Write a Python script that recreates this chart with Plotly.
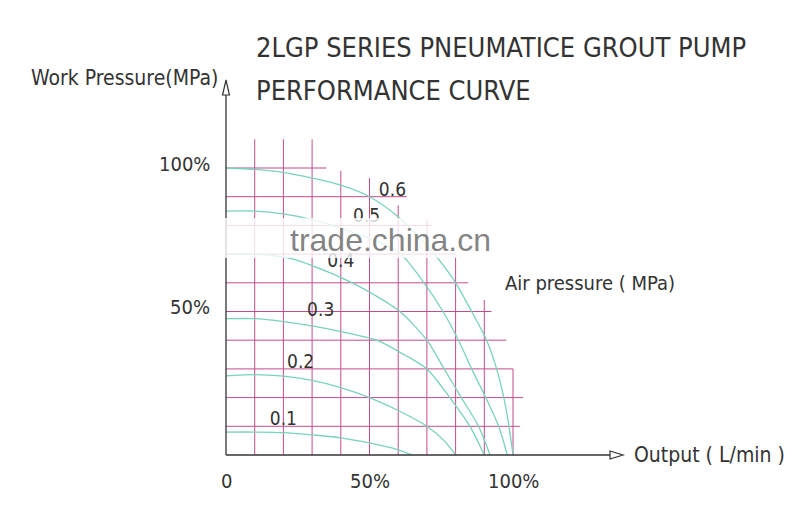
import plotly.graph_objects as go

# ---- data (percent of max output, percent of max work pressure) ----
air_pressures = ["0.1", "0.2", "0.3", "0.4", "0.5", "0.6"]
curve_x = {
    "0.1": [0, 10, 20, 30, 40, 50, 60, 65],
    "0.2": [0, 10, 20, 30, 40, 50, 60, 70, 76, 80],
    "0.3": [0, 10, 20, 30, 40, 52.5, 62, 70, 78, 85, 90],
    "0.4": [0, 10, 22, 30, 44, 53, 60.6, 70, 76, 82, 88, 92],
    "0.5": [0, 10, 20, 30, 40, 50, 60.6, 69, 75.6, 81, 85.6, 90.5, 95, 98],
    "0.6": [0, 10, 20, 30, 40, 50, 60, 70, 75, 80, 85.6, 90.8, 94.3, 96.8, 98.6, 100],
}
curve_y = {
    "0.1": [8, 8, 7.8, 7, 6, 4.2, 1.8, 0],
    "0.2": [27.6, 28, 27.5, 26, 23.5, 20, 15.5, 10, 5, 0],
    "0.3": [47.5, 47.5, 46.5, 45, 43, 40, 35, 30, 20, 10, 0],
    "0.4": [70, 70, 68.6, 66, 60, 55, 50, 40, 30, 20, 10, 0],
    "0.5": [85, 85, 84, 82, 79, 75.5, 70.3, 60, 50, 40, 30, 20, 10, 0],
    "0.6": [100, 99.5, 98.5, 96.5, 94, 90, 83, 73, 67, 60, 50, 40, 30, 20, 10, 0],
}
label_pos_x = [20, 26, 33, 40, 49, 58]
label_pos_y = [12, 32, 50, 67, 83, 92]

grid_x = [10, 20, 30, 40, 50, 60, 70, 80, 90, 100]
grid_x_top = [110, 110, 110, 99, 96.5, 87, 82, 69, 54, 30]
grid_y = [10, 20, 30, 40, 50, 60, 70, 80, 90, 100]
grid_y_right = [102.5, 103.5, 100, 97.7, 92.5, 84.4, 80, 72, 63, 35]

x_tick_vals = [0, 50, 100]
x_tick_text = ["0", "50%", "100%"]
y_tick_vals = [50, 100]
y_tick_text = ["50%", "100%"]

# ---- pixel mapping (page has an 8px body margin) ----
OFF = 8
SX, X0, Y0 = 2.87, 226 - OFF, 455 - OFF
W, H = 800 - OFF, 506 - OFF


def px(xp):
    return (xp - OFF - X0) / SX


def py(yp):
    return (Y0 - (yp - OFF)) / SX


xr = [-X0 / SX, (W - X0) / SX]
yr = [(Y0 - H) / SX, Y0 / SX]

GRID = "#c24d8c"
CURVE = "#79d2bd"
INK = "#333333"
FONT = "DejaVu Sans Condensed, Liberation Sans Narrow, DejaVu Sans, sans-serif"

fig = go.Figure()

for gx, top in zip(grid_x, grid_x_top):
    fig.add_trace(go.Scatter(x=[gx, gx], y=[0, top], mode="lines",
                             line=dict(color=GRID, width=1), hoverinfo="skip", showlegend=False))
for gy, right in zip(grid_y, grid_y_right):
    fig.add_trace(go.Scatter(x=[0, right], y=[gy, gy], mode="lines",
                             line=dict(color=GRID, width=1), hoverinfo="skip", showlegend=False))

for p in air_pressures:
    fig.add_trace(go.Scatter(x=curve_x[p], y=curve_y[p], mode="lines",
                             line=dict(color=CURVE, width=1.3, shape="spline", smoothing=0.8),
                             name=p, showlegend=False))

fig.add_trace(go.Scatter(x=label_pos_x, y=label_pos_y, mode="text", text=air_pressures,
                         textfont=dict(family=FONT, size=19, color=INK),
                         hoverinfo="skip", showlegend=False))

x_end = px(610)
y_end = py(95)
fig.add_shape(type="line", x0=0, y0=0, x1=x_end, y1=0, line=dict(color=INK, width=1.3))
fig.add_shape(type="line", x0=0, y0=0, x1=0, y1=y_end, line=dict(color=INK, width=1.3))
fig.add_shape(type="path", line=dict(color=INK, width=1.2), fillcolor="white",
              path=f"M {x_end} 1.4 L {px(623)} 0 L {x_end} -1.4 Z")
fig.add_shape(type="path", line=dict(color=INK, width=1.2), fillcolor="white",
              path=f"M -1.2 {y_end} L 0 {py(80)} L 1.2 {y_end} Z")

fig.add_shape(type="rect", x0=px(105), x1=px(545), y0=py(258), y1=py(218),
              fillcolor="rgba(255,255,255,0.8)", line=dict(width=0), layer="above")

anns = []
for v, t in zip(x_tick_vals, x_tick_text):
    anns.append(dict(x=v, y=py(481), text=t, showarrow=False,
                     font=dict(family=FONT, size=20, color=INK)))
for v, t in zip(y_tick_vals, y_tick_text):
    anns.append(dict(x=px(212), y=v + 1.5, text=t, showarrow=False, xanchor="right",
                     font=dict(family=FONT, size=20, color=INK)))
anns += [
    dict(x=px(632), y=0, text="Output ( L/min )", showarrow=False, xanchor="left",
         font=dict(family=FONT, size=21, color=INK)),
    dict(x=px(220), y=py(78), text="Work Pressure(MPa)", showarrow=False,
         xanchor="right", font=dict(family=FONT, size=21, color=INK)),
    dict(x=px(254), y=py(47), text="2LGP SERIES PNEUMATICE GROUT PUMP",
         showarrow=False, xanchor="left", font=dict(family=FONT, size=27, color=INK)),
    dict(x=px(254), y=py(90), text="PERFORMANCE CURVE",
         showarrow=False, xanchor="left", font=dict(family=FONT, size=27, color=INK)),
    dict(x=px(503), y=py(283), text="Air pressure ( MPa)", showarrow=False,
         xanchor="left", font=dict(family=FONT, size=20, color=INK)),
    dict(x=px(390), y=py(240), text="trade.china.cn", showarrow=False,
         font=dict(family="Liberation Sans, Arial, sans-serif", size=32,
                   color="rgba(110,110,110,0.85)")),
]

fig.update_layout(
    width=W, height=H, margin=dict(l=0, r=0, t=0, b=0),
    paper_bgcolor="white", plot_bgcolor="white",
    xaxis=dict(range=xr, visible=False, fixedrange=True),
    yaxis=dict(range=yr, visible=False, fixedrange=True),
    annotations=anns,
)

fig.write_html("out.html")
